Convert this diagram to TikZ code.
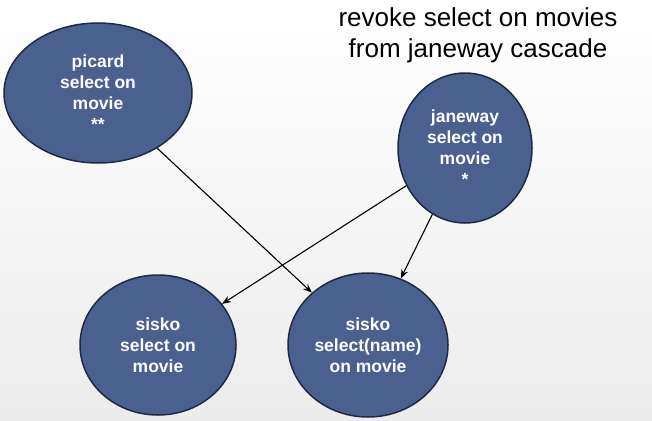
\documentclass[tikz,border=0pt]{standalone}
\usepackage{fontspec}
\setmainfont{Liberation Sans}
\usetikzlibrary{shapes.geometric,arrows.meta}
\definecolor{nodefill}{HTML}{4A6190}
\definecolor{nodeedge}{HTML}{1E2A44}
\begin{document}
\begin{tikzpicture}[x=1pt,y=-1pt,
  priv/.style={ellipse,draw=nodeedge,line width=1.5pt,fill=nodefill,text=white,
    font=\fontsize{17.5}{21}\selectfont\bfseries,align=center,inner sep=0pt},
  arr/.style={-{Stealth[length=9pt,width=7pt]},line width=1.1pt}]
\useasboundingbox[top color=white,bottom color=gray!15] (0,0) rectangle (652,420);
\node[priv,minimum width=188pt,minimum height=140pt] (picard) at (98,93) {picard\\select on\\movie\\**};
\node[priv,minimum width=134pt,minimum height=150pt] (janeway) at (465,148) {janeway\\select on\\movie\\*};
\node[priv,minimum width=156pt,minimum height=140pt] (sisko1) at (158,345) {sisko\\select on\\movie};
\node[priv,minimum width=160pt,minimum height=144pt] (sisko2) at (368,345) {sisko\\select(name)\\on movie};
\node[font=\fontsize{26}{31}\selectfont,align=center] (title) at (478,35) {revoke select on movies\\from janeway cascade};
\draw[arr] (picard) -- (sisko2);
\draw[arr] (janeway) -- (sisko1);
\draw[arr] (janeway) -- (sisko2);
\end{tikzpicture}
\end{document}
